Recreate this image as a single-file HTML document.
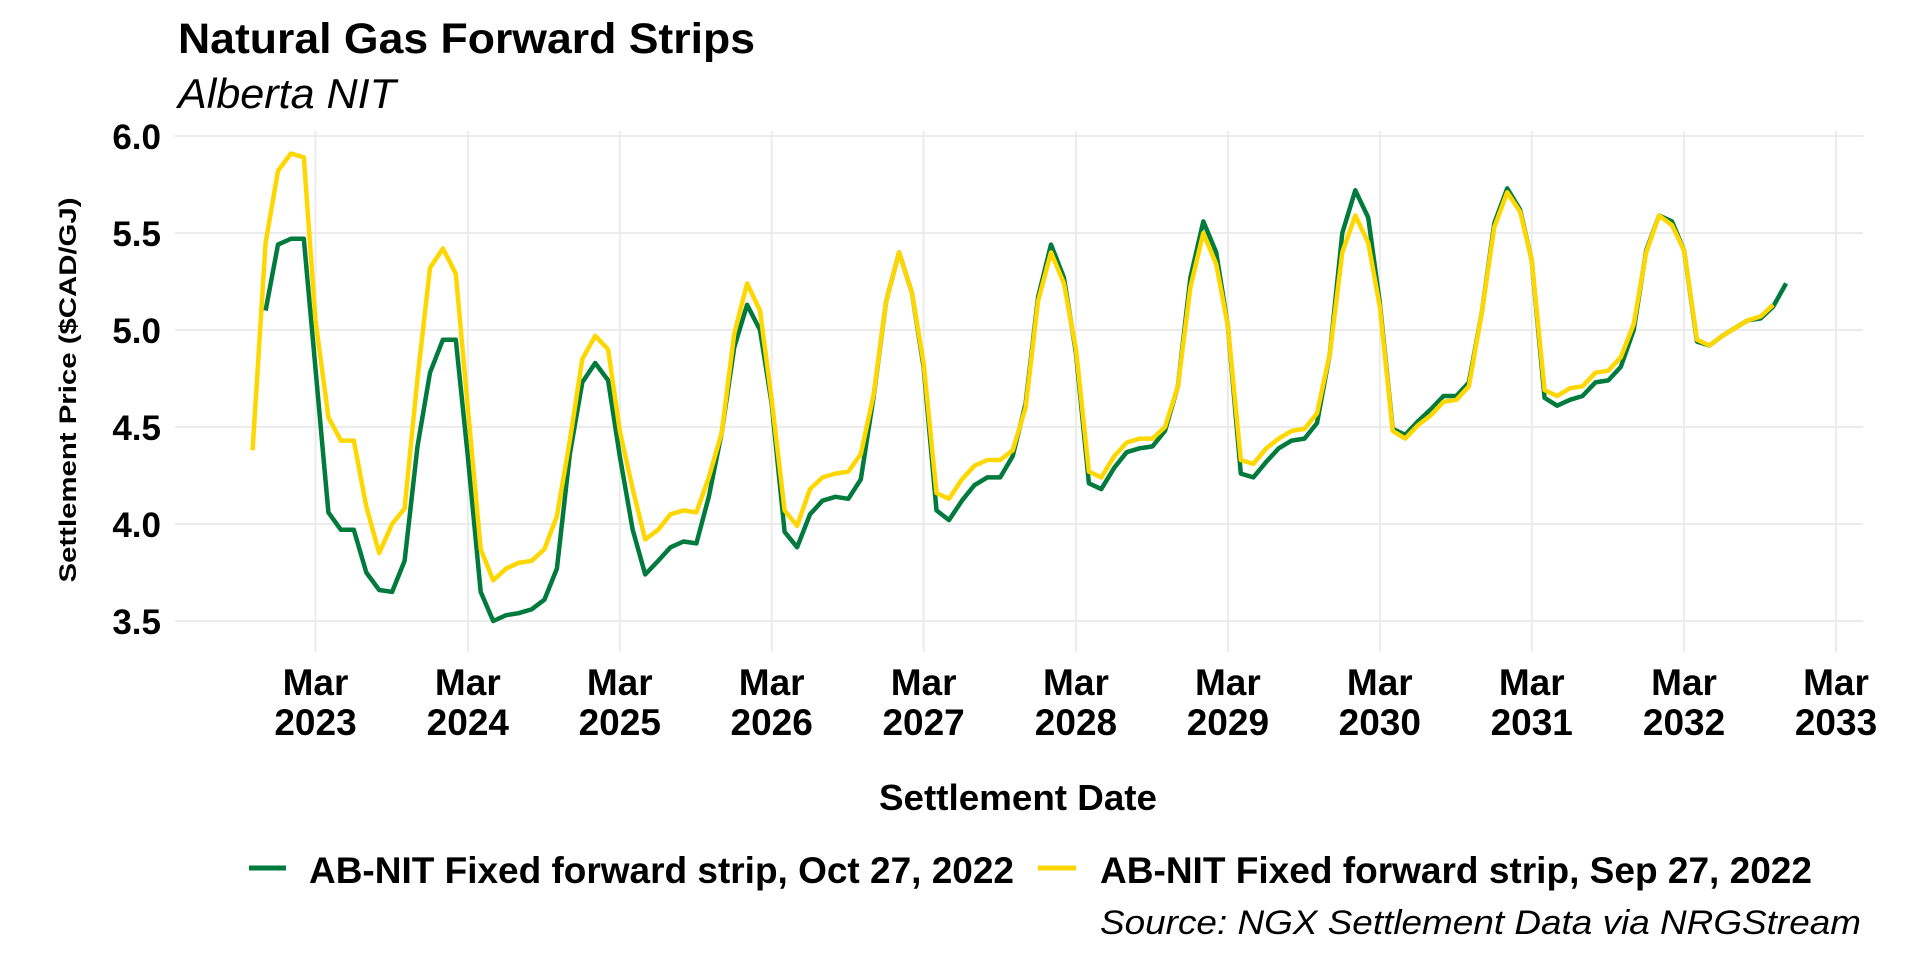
<!DOCTYPE html>
<html><head><meta charset="utf-8"><style>
html,body{margin:0;padding:0;background:#fff;}
svg{display:block;font-family:"Liberation Sans",Arial,sans-serif;}
</style></head><body>
<svg id="chart" width="1920" height="960" viewBox="0 0 1920 960">
<text x="178" y="53" font-size="43" font-weight="bold" textLength="577" lengthAdjust="spacingAndGlyphs">Natural Gas Forward Strips</text>
<text x="178" y="108" font-size="42" font-style="italic" textLength="218" lengthAdjust="spacingAndGlyphs">Alberta NIT</text>
<g id="grid"></g>
<g id="yticks"></g>
<g id="xticks"></g>
<g id="series"></g>
<text transform="translate(76,390) rotate(-90)" text-anchor="middle" font-size="24" font-weight="bold" textLength="385" lengthAdjust="spacingAndGlyphs">Settlement Price ($CAD/GJ)</text>
<text x="1018" y="810" text-anchor="middle" font-size="36" font-weight="bold" textLength="278" lengthAdjust="spacingAndGlyphs">Settlement Date</text>
<g>
<g>
<line x1="249" y1="868" x2="286" y2="868" stroke="#007a3d" stroke-width="5"/>
<text x="309" y="883" font-size="37" font-weight="bold" textLength="705" lengthAdjust="spacingAndGlyphs">AB-NIT Fixed forward strip, Oct 27, 2022</text>
</g>
<g>
<line x1="1038" y1="868" x2="1076" y2="868" stroke="#ffd700" stroke-width="5"/>
<text x="1100" y="883" font-size="37" font-weight="bold" textLength="712" lengthAdjust="spacingAndGlyphs">AB-NIT Fixed forward strip, Sep 27, 2022</text>
</g>
</g>
<text x="1861" y="934" text-anchor="end" font-size="34" font-style="italic" textLength="761" lengthAdjust="spacingAndGlyphs">Source: NGX Settlement Data via NRGStream</text>
</svg>
<script>
const yTicks = [3.5, 4.0, 4.5, 5.0, 5.5, 6.0];
const yTickLabels = ["3.5", "4.0", "4.5", "5.0", "5.5", "6.0"];
const xTickYears = [2023, 2024, 2025, 2026, 2027, 2028, 2029, 2030, 2031, 2032, 2033];
const octStart = [2022, 11];
const sepStart = [2022, 10];
const octValues = [5.10,5.44,5.47,5.47,4.80,4.06,3.97,3.97,3.75,3.66,3.65,3.81,4.40,4.78,4.95,4.95,4.35,3.65,3.50,3.53,3.54,3.56,3.61,3.77,4.36,4.73,4.83,4.74,4.35,3.97,3.74,3.81,3.88,3.91,3.90,4.14,4.47,4.91,5.13,5.00,4.62,3.96,3.88,4.05,4.12,4.14,4.13,4.23,4.66,5.15,5.40,5.19,4.81,4.07,4.02,4.12,4.20,4.24,4.24,4.35,4.62,5.17,5.44,5.27,4.88,4.21,4.18,4.29,4.37,4.39,4.40,4.48,4.71,5.27,5.56,5.40,5.02,4.26,4.24,4.32,4.39,4.43,4.44,4.52,4.88,5.50,5.72,5.58,5.14,4.49,4.46,4.53,4.59,4.66,4.66,4.73,5.09,5.55,5.73,5.62,5.36,4.65,4.61,4.64,4.66,4.73,4.74,4.81,5.00,5.41,5.59,5.56,5.41,4.94,4.92,4.97,5.01,5.05,5.06,5.12,5.24];
const sepValues = [4.38,5.45,5.82,5.91,5.89,5.05,4.55,4.43,4.43,4.09,3.85,4.00,4.08,4.75,5.32,5.42,5.29,4.60,3.87,3.71,3.77,3.80,3.81,3.87,4.04,4.43,4.85,4.97,4.90,4.48,4.18,3.92,3.97,4.05,4.07,4.06,4.24,4.47,4.98,5.24,5.10,4.64,4.07,3.99,4.18,4.24,4.26,4.27,4.36,4.67,5.15,5.40,5.19,4.83,4.16,4.13,4.23,4.30,4.33,4.33,4.38,4.60,5.15,5.40,5.24,4.90,4.27,4.24,4.35,4.42,4.44,4.44,4.50,4.71,5.22,5.50,5.34,5.02,4.33,4.31,4.39,4.44,4.48,4.49,4.57,4.88,5.40,5.59,5.45,5.12,4.48,4.44,4.51,4.56,4.63,4.64,4.71,5.09,5.53,5.71,5.61,5.36,4.69,4.66,4.70,4.71,4.78,4.79,4.86,5.03,5.40,5.59,5.54,5.41,4.95,4.92,4.97,5.01,5.05,5.07,5.13];

const NS = "http://www.w3.org/2000/svg";
const X0 = 315.5, X1 = 1836, T0 = Date.UTC(2023,2,1), T1 = Date.UTC(2033,2,1);
function xScale(y, m){ return X0 + (Date.UTC(y, m-1, 1) - T0) / (T1 - T0) * (X1 - X0); }
function yScale(v){ return 136 + (6 - v) * 194; }
function mk(tag, attrs, parent){ const e=document.createElementNS(NS,tag); for(const k in attrs) e.setAttribute(k,attrs[k]); parent.appendChild(e); return e; }

const grid=document.getElementById('grid'), yt=document.getElementById('yticks'), xt=document.getElementById('xticks'), ser=document.getElementById('series');
yTicks.forEach((v,i)=>{
  const l=mk('line',{x1:175,x2:1863,y1:yScale(v),y2:yScale(v),stroke:'#ebebeb','stroke-width':2},grid);
  
  
  const t=mk('text',{x:161,y:yScale(v)+13,'text-anchor':'end','font-size':35,'font-weight':'bold'},yt);
  t.textContent=yTickLabels[i];
  
  
});
xTickYears.forEach(yr=>{
  const x=xScale(yr,3);
  const l=mk('line',{x1:x,x2:x,y1:131,y2:652,stroke:'#ebebeb','stroke-width':2},grid);
  
  
  const t1=mk('text',{x:x,y:695,'text-anchor':'middle','font-size':37,'font-weight':'bold'},xt);
  t1.textContent='Mar';
  
  
  const t2=mk('text',{x:x,y:735,'text-anchor':'middle','font-size':37,'font-weight':'bold'},xt);
  t2.textContent=String(yr);
  
  
});
function drawSeries(start, vals, color, name){
  const pts=vals.map((v,i)=>{ const m=start[1]-1+i; return xScale(start[0]+Math.floor(m/12), (m%12)+1).toFixed(1)+','+yScale(v).toFixed(1); });
  const p=mk('polyline',{points:pts.join(' '),fill:'none',stroke:color,'stroke-width':4.5,'stroke-linejoin':'round'},ser);
  
  
}
drawSeries(octStart, octValues, '#007a3d', 'line-oct-27-strip');
drawSeries(sepStart, sepValues, '#ffd700', 'line-sep-27-strip');
</script>
</body></html>
